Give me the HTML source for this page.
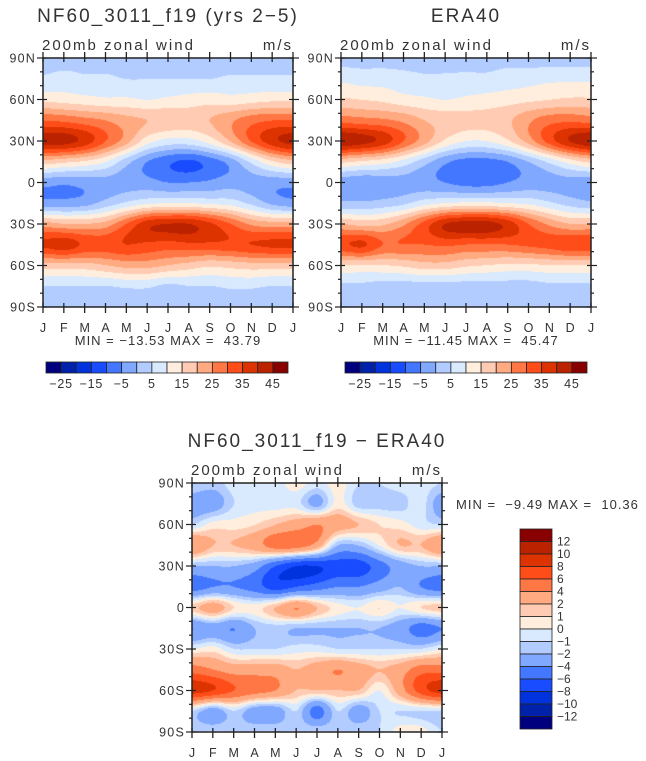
<!DOCTYPE html>
<html><head><meta charset="utf-8">
<style>
body{margin:0;background:#fff;width:646px;height:761px;overflow:hidden;position:relative;font-family:"Liberation Sans",sans-serif;}
canvas{position:absolute;}
svg{position:absolute;left:0;top:0;}
text{font-family:"Liberation Sans",sans-serif;fill:#333;white-space:pre;}
</style></head><body>
<canvas id="c1" width="250" height="249" style="left:43px;top:58px"></canvas>
<canvas id="c2" width="250" height="249" style="left:341px;top:58px"></canvas>
<canvas id="c3" width="250" height="249" style="left:192px;top:483px"></canvas>
<svg id="ov" width="646" height="761"></svg>
<script>
const months=["J","F","M","A","M","J","J","A","S","O","N","D","J"];
const latLabels=["90N","60N","30N","0","30S","60S","90S"];
const colors=["#00007f","#0022aa","#0033dd","#1a4cff","#4477ff","#80a8ff","#b3ccff","#d9eaff","#ffeedd","#ffccb3","#ffaa80","#ff7744","#ff4d1a","#dd3300","#bb2200","#880000"];
const levelsTop=[-25,-20,-15,-10,-5,0,5,10,15,20,25,30,35,40,45];
const levelsDiff=[-12,-10,-8,-6,-4,-2,-1,0,1,2,4,6,8,10,12];
const topLabels=["-25","-15","-5","5","15","25","35","45"];
const diffLabels=["12","10","8","6","4","2","1","0","\u22121","\u22122","\u22124","\u22126","\u22128","\u221210","\u221212"];
// rows: 90N,75N,...,90S ; cols: Jan..Jan
const model=[
[3,3,3,3,3,3,3,3,3,2,3,3,3],
[6,7,6,6,5,5,5,5,5,6,6,6,6],
[14,13,12,11,11,10,11,12,13,12,13,14,14],
[30,29,27,25,22,20,19,18,20,24,28,30,30],
[42,42,38,30,22,12,8,8,12,20,30,38,42],
[18,16,14,10,2,-5,-9,-11,-8,-3,6,14,18],
[-3,-4,-3,-2,-2,-3,-5,-5,-4,-2,-2,-3,-3],
[-3,-3,-2,2,6,9,10,10,9,8,4,-1,-3],
[22,20,20,22,30,38,40,40,36,30,24,22,22],
[36,38,34,33,35,34,33,34,34,34,35,36,36],
[18,18,18,20,22,22,20,18,16,17,18,18,18],
[5,5,5,5,6,6,4,5,5,6,6,5,5],
[2,2,2,2,2,2,0,2,0,2,2,2,2]];
const era=[
[3,3,3,3,3,3,4,4,4,3,3,3,3],
[9,8,8,7,6,6,6,6,7,8,9,9,9],
[16,15,14,12,11,10,11,12,13,14,15,16,16],
[28,27,26,24,20,18,17,17,19,24,28,29,28],
[44,42,38,30,22,14,10,10,14,22,32,40,44],
[16,14,12,8,2,-4,-7,-7,-5,0,6,12,16],
[-3,-4,-3,-2,-3,-5,-7,-7,-5,-3,-2,-2,-3],
[1,1,2,4,8,10,11,11,10,9,6,3,1],
[20,18,19,24,32,40,42,42,38,30,24,20,20],
[34,36,30,30,30,31,30,30,30,31,32,34,34],
[15,15,15,16,18,18,16,15,14,14,15,15,15],
[4,4,3,3,3,3,3,3,3,3,4,4,4],
[3,3,3,3,3,2,2,2,2,2,3,3,3]];
const diff=[
[-1,-1.5,-0.5,-0.5,-0.5,0.5,-0.5,0.5,-1,-1,-0.5,-0.5,-1],
[-3,-3,-1,-0.5,-0.5,-0.5,-2.5,0.5,-1.5,-1.5,-1.5,-0.5,-3],
[-1,0.5,0.5,1,2,3,4,3,2,1,0.5,-0.5,-1],
[4,2,2,3,5,5,3,-2,-2,0,2,2,4],
[-2,-2,-2,-3,-6,-8,-8,-7,-7,-5,-3,-2,-2],
[-5,-4,-4,-5,-7,-6,-5,-4,-4,-3,-2,-4,-5],
[1.5,3,1,0.5,2,4,2,0.5,0,1,0,1,1.5],
[-4,-3,-4,-2,-1.5,-2,-2,-2,-2,-2,-3,-5,-4],
[0,0.5,-1,-1,-1,-0.5,-0.5,-1,-1,-1,-1,-1,0],
[5,4,3,3,3,2,3,4,3,2,3,5,5],
[9,8,6,5,4,2,2,2,2,0,3,7,9],
[-1,-3,-1,-3,-3,-1,-5,-1,-3,-1,-1,-1,-1],
[-1,-1,-1,-1,-1,-1,-1,-1,-1,-1,0.5,0.5,-1]];
const minmax=[["-13.53","43.79"],["-11.45","45.47"],["-9.49","10.36"]];

function cr(p0,p1,p2,p3,t){return 0.5*((2*p1)+(-p0+p2)*t+(2*p0-5*p1+4*p2-p3)*t*t+(-p0+3*p1-3*p2+p3)*t*t*t);}
function sample(g,x,y){
  const R=g.length,C=g[0].length;
  const xi=Math.min(Math.floor(x),C-2), yi=Math.min(Math.floor(y),R-2);
  const tx=x-xi, ty=y-yi;
  const row=r=>{r=Math.max(0,Math.min(R-1,r));const c=k=>g[r][Math.max(0,Math.min(C-1,k))];return cr(c(xi-1),c(xi),c(xi+1),c(xi+2),tx);};
  return cr(row(yi-1),row(yi),row(yi+1),row(yi+2),ty);
}
function hex(h){return [parseInt(h.substr(1,2),16),parseInt(h.substr(3,2),16),parseInt(h.substr(5,2),16)];}
const rgb=colors.map(hex);
function draw(id,g,lev){
  const cv=document.getElementById(id),ctx=cv.getContext('2d');
  const W=cv.width,H=cv.height,im=ctx.createImageData(W,H);
  for(let j=0;j<H;j++)for(let i=0;i<W;i++){
    const v=sample(g,i/(W-1)*12,j/(H-1)*12);
    let k=0;while(k<lev.length&&v>=lev[k])k++;
    const c=rgb[k],o=(j*W+i)*4;im.data[o]=c[0];im.data[o+1]=c[1];im.data[o+2]=c[2];im.data[o+3]=255;
  }
  ctx.putImageData(im,0,0);
}
draw('c1',model,levelsTop);draw('c2',era,levelsTop);draw('c3',diff,levelsDiff);

const ov=document.getElementById('ov');const NS="http://www.w3.org/2000/svg";
function el(tag,attrs,txt){const e=document.createElementNS(NS,tag);for(const k in attrs)e.setAttribute(k,attrs[k]);if(txt!==undefined)e.textContent=txt;ov.appendChild(e);return e;}
function axes(x0,y0,w,h,name){
  let e=el('rect',{x:x0,y:y0,width:w,height:h,fill:'none',stroke:'#222','stroke-width':1.5});
  
  for(let m=0;m<13;m++){const x=x0+m*w/12;
    el('line',{x1:x,y1:y0+h-4,x2:x,y2:y0+h+6,stroke:'#222','stroke-width':1.3});
    el('line',{x1:x,y1:y0-6,x2:x,y2:y0+4,stroke:'#222','stroke-width':1.3});
    e=el('text',{x:x,y:y0+h+25,'font-size':12.5,'text-anchor':'middle'},months[m]);
    }
  for(let d=0;d<=18;d++){const y=y0+d*h/18,maj=d%3==0,L=maj?6:3;
    el('line',{x1:x0-L,y1:y,x2:x0+(maj?4:0),y2:y,stroke:'#222','stroke-width':1.2});
    el('line',{x1:x0+w-(maj?4:0),y1:y,x2:x0+w+L,y2:y,stroke:'#222','stroke-width':1.2});
    if(maj){e=el('text',{x:x0-7,y:y+4.5,'font-size':12.5,'letter-spacing':1.2,'text-anchor':'end'},latLabels[d/3]);
      }}
  e=el('text',{x:x0-1,y:y0-8,'font-size':15,'letter-spacing':2},'200mb zonal wind');
  e=el('text',{x:x0+w,y:y0-8,'font-size':15,'letter-spacing':2,'text-anchor':'end'},'m/s');
}
axes(43,58,250,249,'model');axes(341,58,250,249,'era40');axes(192,483,250,249,'diff');
let t;
t=el('text',{x:168,y:22,'font-size':19,'letter-spacing':2,'text-anchor':'middle'},'NF60_3011_f19 (yrs 2\u22125)');
t=el('text',{x:466,y:22,'font-size':19,'letter-spacing':2,'text-anchor':'middle'},'ERA40');
t=el('text',{x:317,y:447,'font-size':19,'letter-spacing':2,'text-anchor':'middle'},'NF60_3011_f19 \u2212 ERA40');
t=el('text',{x:168,y:345,'font-size':13,'letter-spacing':1,'text-anchor':'middle'},'MIN = \u2212'+minmax[0][0].slice(1)+' MAX =  '+minmax[0][1]);
t=el('text',{x:466,y:345,'font-size':13,'letter-spacing':1,'text-anchor':'middle'},'MIN = \u2212'+minmax[1][0].slice(1)+' MAX =  '+minmax[1][1]);
t=el('text',{x:456,y:509,'font-size':13,'letter-spacing':1},'MIN =  \u2212'+minmax[2][0].slice(1)+' MAX =  '+minmax[2][1]);
function hbar(x0,name){const bw=242/16;
  for(let k=0;k<16;k++){const r=el('rect',{x:x0+k*bw,y:362,width:bw,height:11,fill:colors[k],stroke:'#222','stroke-width':0.8});
    }
  for(let i=0;i<topLabels.length;i++){const x=x0+(1+2*i)*bw;
    const e=el('text',{x:x,y:388,'font-size':12.5,'letter-spacing':0.8,'text-anchor':'middle'},topLabels[i].replace('-','\u2212'));
    }}
hbar(46,'model');hbar(345,'era40');
const bh=200/16;
for(let k=0;k<16;k++){const r=el('rect',{x:520,y:529+k*bh,width:32,height:bh,fill:colors[15-k],stroke:'#222','stroke-width':0.8});
  }
for(let i=0;i<diffLabels.length;i++){const e=el('text',{x:557,y:529+(i+1)*bh+4,'font-size':12},diffLabels[i]);
  }
</script>
</body></html>
